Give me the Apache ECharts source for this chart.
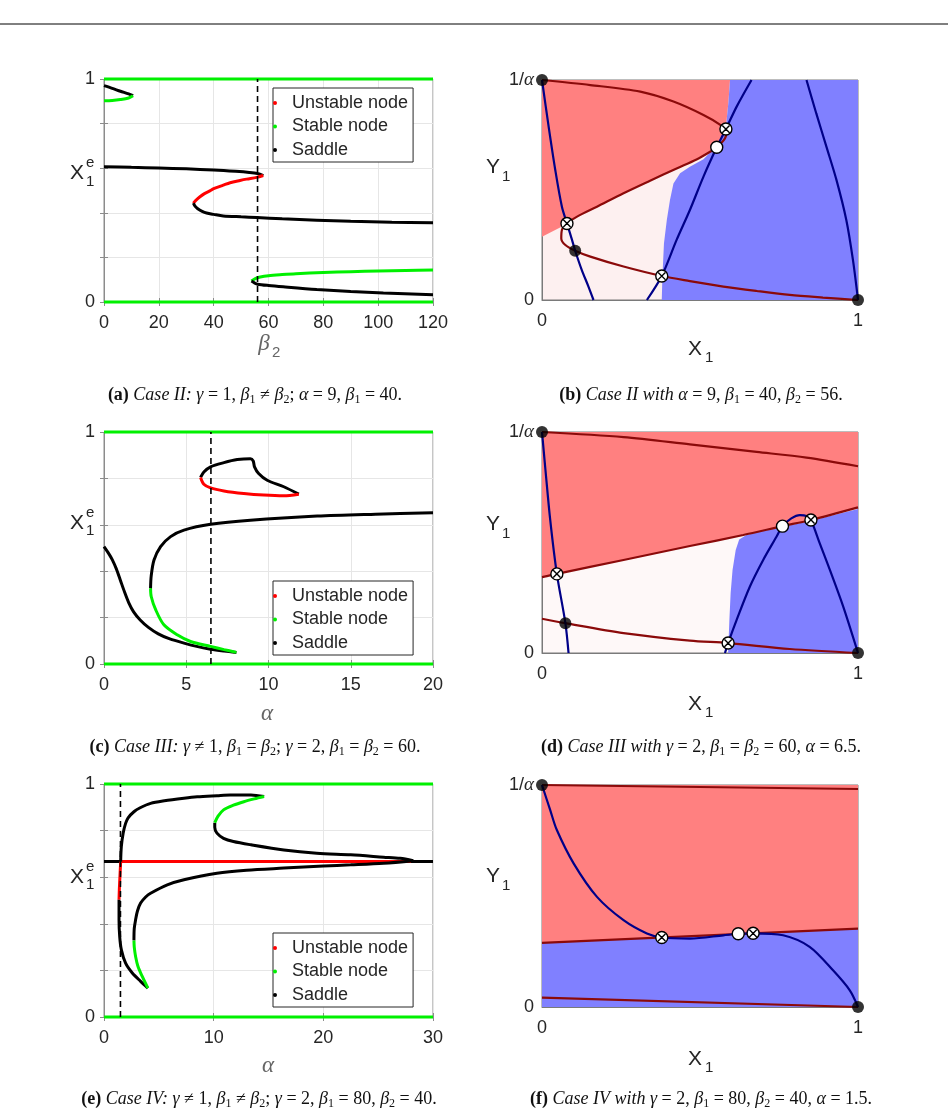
<!DOCTYPE html>
<html>
<head>
<meta charset="utf-8">
<script src="https://cdn.jsdelivr.net/npm/echarts@6/dist/echarts.min.js"></script>
<style>
html, body { margin: 0; padding: 0; background: #fff; }
#main { width: 948px; height: 1117px; }
</style>
</head>
<body>
<div id="main"></div>
<script>
// ---- (a) Case II, bifurcation in beta2 ----
var aTop = [[0, 1], [120, 1]];
var aBot = [[0, 0], [120, 0]];
var aSadTip = [[0, 0.970], [3, 0.958], [6, 0.945], [9, 0.933], [10.6, 0.925]];
var aStabTip = [[10.6, 0.925], [9, 0.915], [6, 0.908], [3, 0.904], [0, 0.903]];
var aSadUp = [[0, 0.607], [10, 0.604], [20, 0.601], [30, 0.597], [40, 0.592], [48, 0.586], [53, 0.581], [56, 0.576], [58.1, 0.567]];
var aUnst = [[58.1, 0.567], [55.7, 0.559], [52, 0.551], [49.6, 0.545], [46, 0.535], [43.5, 0.524], [40, 0.508], [38.6, 0.498], [36.5, 0.485], [35, 0.472], [33.5, 0.456], [32.6, 0.443]];
var aSadMid = [[32.6, 0.443], [33.2, 0.43], [34.2, 0.418], [36, 0.405], [37.4, 0.399], [40, 0.393], [43.5, 0.386], [50, 0.382], [55.7, 0.379], [65, 0.373], [77.6, 0.367], [90, 0.362], [105, 0.358], [120, 0.355]];
var aStabLow = [[53.8, 0.094], [55, 0.104], [57, 0.112], [60, 0.118], [65, 0.123], [70, 0.127], [80, 0.132], [90, 0.136], [100, 0.139], [110, 0.141], [120, 0.143]];
var aSadLow = [[53.8, 0.094], [55, 0.085], [56, 0.08], [60, 0.074], [65.4, 0.068], [77.6, 0.056], [90, 0.047], [101.9, 0.04], [120, 0.033]];
var aDash = [[56, 0], [56, 1]];

// ---- (c) Case III, bifurcation in alpha ----
var cTop = [[0, 1], [20, 1]];
var cBot = [[0, 0], [20, 0]];
var cSadLeft = [[0, 0.506], [0.25, 0.48], [0.5, 0.45], [0.75, 0.41], [1.0, 0.36], [1.25, 0.31], [1.5, 0.265], [1.8, 0.225], [2.2, 0.19], [2.7, 0.158], [3.3, 0.13], [4.0, 0.108], [4.86, 0.09], [5.7, 0.075], [6.48, 0.064], [7.3, 0.056], [8.05, 0.05]];
var cStab = [[8.05, 0.05], [7.3, 0.062], [6.48, 0.076], [5.26, 0.097], [4.45, 0.126], [3.64, 0.169], [3.14, 0.234], [2.87, 0.291], [2.83, 0.327]];
var cSadUp = [[2.83, 0.327], [2.87, 0.38], [3.04, 0.448], [3.44, 0.506], [4.05, 0.549], [4.86, 0.577], [6.48, 0.602], [8.9, 0.62], [12.96, 0.638], [16.5, 0.646], [20, 0.652]];
var cSadLoop = [[5.87, 0.804], [6.07, 0.828], [6.48, 0.85], [7.29, 0.868], [8.1, 0.881], [8.9, 0.885], [9.07, 0.875], [9.15, 0.85], [9.4, 0.821], [9.92, 0.792], [10.93, 0.764], [11.84, 0.732]];
var cUnstLoop = [[11.84, 0.732], [10.93, 0.725], [9.72, 0.728], [8.5, 0.735], [7.29, 0.746], [6.48, 0.759], [6.07, 0.775], [5.87, 0.804]];
var cDash = [[6.5, 0], [6.5, 1]];

// ---- (e) Case IV, bifurcation in alpha ----
var eTop = [[0, 1], [30, 1]];
var eBot = [[0, 0], [30, 0]];
var eSadFlat = [[0, 0.667], [30, 0.667]];
var eUnstFlat = [[1.6, 0.667], [28, 0.667]];
var eSadBig = [[14.6, 0.946], [13.4, 0.953], [11.5, 0.953], [10.3, 0.95], [8.5, 0.945], [7.29, 0.939], [5.5, 0.928], [4.25, 0.917], [3.3, 0.898], [2.73, 0.881], [2.2, 0.855], [1.97, 0.831], [1.75, 0.79], [1.58, 0.731], [1.52, 0.667]];
var eUnstDrop = [[1.52, 0.667], [1.45, 0.6], [1.4, 0.55], [1.37, 0.503]];
var eSadDrop = [[1.37, 0.503], [1.37, 0.417], [1.43, 0.346], [1.58, 0.289], [1.97, 0.231], [2.58, 0.189], [3.34, 0.153], [4.0, 0.124]];
var eStabLow = [[4.0, 0.124], [3.49, 0.174], [3.1, 0.217], [2.88, 0.26], [2.76, 0.3], [2.73, 0.329]];
var eSadMid = [[2.73, 0.329], [2.76, 0.38], [2.88, 0.417], [3.05, 0.455], [3.34, 0.489], [3.8, 0.515], [4.25, 0.531], [5.77, 0.567], [7.29, 0.589], [10.3, 0.617], [13, 0.63], [16.4, 0.639], [20, 0.648], [22.5, 0.653], [25.5, 0.66], [28.2, 0.671]];
var eSadBack = [[28.2, 0.671], [27, 0.681], [25.5, 0.686], [22.5, 0.696], [19.4, 0.703], [16.4, 0.717], [13.4, 0.739], [11.8, 0.753], [10.9, 0.767], [10.3, 0.789], [10.1, 0.814], [10.1, 0.834]];
var eStabUp = [[10.1, 0.834], [10.4, 0.862], [10.9, 0.889], [11.8, 0.909], [12.75, 0.924], [13.7, 0.936], [14.6, 0.946]];
var eDash = [[1.5, 0], [1.5, 1]];

// ---- (b) phase plane, Case II ----
var bRed = [[0, 1], [0.595, 1], [0.59, 0.9], [0.583, 0.8], [0.57, 0.74], [0.545, 0.69], [0.511, 0.652], [0.426, 0.598], [0.342, 0.542], [0.258, 0.485], [0.174, 0.424], [0.111, 0.379], [0.079, 0.345], [0, 0.288]];
var bBlue = [[0.595, 1], [1, 1], [1, 0], [0.379, 0], [0.381, 0.106], [0.386, 0.258], [0.395, 0.364], [0.405, 0.455], [0.416, 0.53], [0.437, 0.576], [0.468, 0.606], [0.511, 0.64], [0.545, 0.69], [0.57, 0.74], [0.583, 0.8], [0.59, 0.9]];
var bMaroon = [[0, 1], [0.153, 0.977], [0.311, 0.947], [0.416, 0.902], [0.511, 0.841], [0.563, 0.797], [0.584, 0.765], [0.579, 0.735], [0.553, 0.694], [0.532, 0.674], [0.489, 0.639], [0.426, 0.598], [0.342, 0.542], [0.258, 0.485], [0.174, 0.424], [0.111, 0.379], [0.079, 0.348], [0.063, 0.318], [0.061, 0.28], [0.074, 0.25], [0.105, 0.224], [0.153, 0.197], [0.258, 0.152], [0.379, 0.109], [0.468, 0.086], [0.574, 0.061], [0.679, 0.041], [0.784, 0.023], [0.889, 0.011], [1, 0]];
var bNavy1 = [[0, 1], [0.021, 0.788], [0.042, 0.591], [0.063, 0.424], [0.079, 0.348], [0.095, 0.273], [0.105, 0.224], [0.126, 0.136], [0.147, 0.061], [0.163, 0]];
var bNavy2 = [[0.332, 0], [0.379, 0.109], [0.426, 0.273], [0.468, 0.409], [0.511, 0.561], [0.553, 0.694], [0.582, 0.777], [0.616, 0.879], [0.663, 1]];
var bNavy3 = [[0.837, 1], [0.868, 0.848], [0.9, 0.697], [0.932, 0.545], [0.963, 0.364], [0.984, 0.182], [1, 0]];
var bStable = [[0, 1], [1, 0], [0.105, 0.224]];
var bUnstable = [[0.553, 0.694]];
var bSaddle = [[0.582, 0.777], [0.079, 0.348], [0.379, 0.109]];

// ---- (d) phase plane, Case III ----
var dRed = [[0, 1], [1, 1], [1, 0.659], [0.851, 0.602], [0.761, 0.574], [0.637, 0.534], [0.468, 0.484], [0.258, 0.421], [0.047, 0.358], [0, 0.343]];
var dBlue = [[0.589, 0], [1, 0], [1, 0.652], [0.851, 0.598], [0.761, 0.57], [0.68, 0.546], [0.647, 0.534], [0.624, 0.514], [0.613, 0.466], [0.603, 0.376], [0.597, 0.271], [0.593, 0.15]];
var dMaroon1 = [[0, 1], [0.258, 0.977], [0.468, 0.944], [0.679, 0.91], [0.837, 0.884], [1, 0.845]];
var dMaroon2 = [[0, 0.343], [0.047, 0.358], [0.258, 0.421], [0.468, 0.484], [0.637, 0.534], [0.761, 0.574], [0.851, 0.602], [1, 0.659]];
var dMaroon3 = [[0, 0.155], [0.074, 0.135], [0.258, 0.09], [0.468, 0.056], [0.589, 0.045], [0.784, 0.018], [1, 0]];
var dNavy1 = [[0, 1], [0.011, 0.827], [0.026, 0.602], [0.047, 0.358], [0.074, 0.135], [0.084, 0]];
var dNavy2 = [[0.579, 0], [0.589, 0.045], [0.616, 0.15], [0.658, 0.301], [0.7, 0.421], [0.742, 0.526], [0.761, 0.574], [0.789, 0.609], [0.816, 0.624], [0.837, 0.62], [0.851, 0.602], [0.879, 0.496], [0.911, 0.376], [0.953, 0.211], [1, 0]];
var dStable = [[0, 1], [1, 0], [0.074, 0.135]];
var dUnstable = [[0.761, 0.574]];
var dSaddle = [[0.851, 0.602], [0.047, 0.358], [0.589, 0.045]];

// ---- (f) phase plane, Case IV ----
var fRed = [[0, 1], [1, 1], [1, 0.353], [0, 0.289]];
var fBlue = [[0, 0.289], [1, 0.353], [1, 0], [0, 0]];
var fMaroon1 = [[0, 1], [1, 0.982]];
var fMaroon2 = [[0, 0.289], [1, 0.353]];
var fMaroon3 = [[0, 0.042], [1, 0]];
var fNavy = [[0, 1], [0.026, 0.887], [0.047, 0.797], [0.1, 0.647], [0.174, 0.496], [0.258, 0.391], [0.332, 0.331], [0.379, 0.313], [0.468, 0.308], [0.574, 0.323], [0.621, 0.33], [0.668, 0.332], [0.763, 0.323], [0.847, 0.271], [0.921, 0.165], [0.974, 0.075], [1, 0]];
var fStable = [[0, 1], [1, 0]];
var fUnstable = [[0.621, 0.33]];
var fSaddle = [[0.379, 0.313], [0.668, 0.332]];

var legendNames = ['Unstable node', 'Stable node', 'Saddle'];

var RED = '#ff0000', GREEN = '#00f000', BLACK = '#000000';
var MAROON = '#8b0a0a', NAVY = '#000088';
var SANS = 'Liberation Sans', SERIF = 'Liberation Serif';
var saddleSymbol = 'path://M10,0A10,10,0,1,1,10,20A10,10,0,1,1,10,0Z M4,4L16,16 M16,4L4,16';

var chart = echarts.init(document.getElementById('main'));

// grids: a, b, c, d, e, f
var grids = [
  { left: 104, top: 79, width: 329, height: 223 },
  { left: 542, top: 80, width: 316, height: 220 },
  { left: 104, top: 432, width: 329, height: 232 },
  { left: 542, top: 432, width: 316, height: 221 },
  { left: 104, top: 784, width: 329, height: 233 },
  { left: 542, top: 785, width: 316, height: 222 }
];
grids.forEach(function (g, i) {
  g.show = true;
  g.borderWidth = 1;
  g.borderColor = i % 2 === 0 ? '#8c8c8c' : '#7a7a7a';
  g.backgroundColor = i === 1 ? '#fdf0f0' : (i === 3 ? '#fef8f8' : 'transparent');
  g.containLabel = false;
});

function bifX(i, max, step) {
  return {
    gridIndex: i, type: 'value', min: 0, max: max, interval: step,
    axisLine: { show: true, onZero: false, lineStyle: { color: '#8c8c8c' } },
    axisTick: { show: true, inside: true, length: 4, lineStyle: { color: '#8c8c8c' } },
    axisLabel: { margin: 12, fontSize: 18, color: '#262626', fontFamily: SANS },
    splitLine: { show: true, lineStyle: { color: '#e6e6e6' } }
  };
}
function bifY(i) {
  return {
    gridIndex: i, type: 'value', min: 0, max: 1, interval: 0.2,
    axisLine: { show: true, onZero: false, lineStyle: { color: '#8c8c8c' } },
    axisTick: { show: true, inside: true, length: 4, lineStyle: { color: '#8c8c8c' } },
    axisLabel: {
      margin: 9, fontSize: 18, color: '#262626', fontFamily: SANS,
      formatter: function (v) { return (Math.abs(v) < 1e-9) ? '0' : (Math.abs(v - 1) < 1e-9 ? '1' : ''); }
    },
    splitLine: { show: true, lineStyle: { color: '#e6e6e6' } }
  };
}
// tick-only mirror axes (top and right of the bifurcation boxes)
function mirrorX(i, max, step) {
  return {
    gridIndex: i, type: 'value', position: 'top', min: 0, max: max, interval: step,
    axisLine: { show: false }, axisLabel: { show: false }, splitLine: { show: false },
    axisTick: { show: true, inside: true, length: 4, lineStyle: { color: '#8c8c8c' } }
  };
}
function mirrorY(i) {
  return {
    gridIndex: i, type: 'value', position: 'right', min: 0, max: 1, interval: 0.2,
    axisLine: { show: false }, axisLabel: { show: false }, splitLine: { show: false },
    axisTick: { show: true, inside: true, length: 4, lineStyle: { color: '#8c8c8c' } }
  };
}
function phaseX(i) {
  return {
    gridIndex: i, type: 'value', min: 0, max: 1, interval: 1,
    axisLine: { show: true, onZero: false, lineStyle: { color: '#7a7a7a' } },
    axisTick: { show: false },
    axisLabel: { margin: 12, fontSize: 18, color: '#262626', fontFamily: SANS },
    splitLine: { show: false }
  };
}
function phaseY(i) {
  return {
    gridIndex: i, type: 'value', min: 0, max: 1, interval: 1,
    axisLine: { show: true, onZero: false, lineStyle: { color: '#7a7a7a' } },
    axisTick: { show: false },
    axisLabel: {
      margin: 8, fontSize: 18, color: '#262626', fontFamily: SANS,
      formatter: function (v) { return v > 0.5 ? '1/{a|α}' : '0'; },
      rich: { a: { fontFamily: SERIF, fontStyle: 'italic', fontSize: 19, color: '#262626' } }
    },
    splitLine: { show: false }
  };
}

function curve(name, gi, data, color, width, z) {
  return {
    type: 'line', name: name, xAxisIndex: gi, yAxisIndex: gi, data: data,
    symbol: 'none', showSymbol: false, smooth: 0.3, clip: false, silent: true,
    lineStyle: { color: color, width: width }, itemStyle: { color: color }, z: z || 3
  };
}
function dashed(gi, data) {
  return {
    type: 'line', xAxisIndex: gi, yAxisIndex: gi, data: data, symbol: 'none',
    clip: false, silent: true, lineStyle: { color: '#000', width: 1.6, type: [6, 4] }, z: 4
  };
}
function region(gi, pts, color) {
  return {
    type: 'custom', xAxisIndex: gi, yAxisIndex: gi, data: [pts[0]], silent: true, z: 1,
    renderItem: function (params, api) {
      return {
        type: 'polygon',
        shape: { points: pts.map(function (p) { return api.coord(p); }) },
        style: { fill: color }
      };
    }
  };
}
function dots(gi, data, kind) {
  var s = {
    type: 'scatter', xAxisIndex: gi, yAxisIndex: gi, data: data, clip: false, silent: true, z: 6
  };
  if (kind === 'stable') {
    s.symbol = 'circle'; s.symbolSize = 12; s.itemStyle = { color: '#000' };
  } else if (kind === 'unstable') {
    s.symbol = 'circle'; s.symbolSize = 12; s.itemStyle = { color: '#fff', borderColor: '#000', borderWidth: 1.4, opacity: 1 };
  } else {
    s.symbol = saddleSymbol; s.symbolSize = 12; s.itemStyle = { color: '#fff', borderColor: '#000', borderWidth: 1.4, opacity: 1 };
  }
  return s;
}

var U = 'Unstable node', S = 'Stable node', D = 'Saddle';
var series = [
  // (a)
  curve(S, 0, aTop, GREEN, 3), curve(S, 0, aBot, GREEN, 3),
  curve(D, 0, aSadTip, BLACK, 3), curve(S, 0, aStabTip, GREEN, 3),
  curve(D, 0, aSadUp, BLACK, 3), curve(U, 0, aUnst, RED, 3), curve(D, 0, aSadMid, BLACK, 3),
  curve(S, 0, aStabLow, GREEN, 3), curve(D, 0, aSadLow, BLACK, 3),
  dashed(0, aDash),
  // (c)
  curve(S, 2, cTop, GREEN, 3), curve(S, 2, cBot, GREEN, 3),
  curve(D, 2, cSadLeft, BLACK, 3), curve(S, 2, cStab, GREEN, 3), curve(D, 2, cSadUp, BLACK, 3),
  curve(D, 2, cSadLoop, BLACK, 3), curve(U, 2, cUnstLoop, RED, 3),
  dashed(2, cDash),
  // (e)
  curve(S, 4, eTop, GREEN, 3), curve(S, 4, eBot, GREEN, 3),
  curve(D, 4, eSadFlat, BLACK, 3), curve(U, 4, eUnstFlat, RED, 3),
  curve(D, 4, eSadBig, BLACK, 3), curve(U, 4, eUnstDrop, RED, 3), curve(D, 4, eSadDrop, BLACK, 3),
  curve(S, 4, eStabLow, GREEN, 3), curve(D, 4, eSadMid, BLACK, 3), curve(D, 4, eSadBack, BLACK, 3),
  curve(S, 4, eStabUp, GREEN, 3),
  dashed(4, eDash),
  // (b)
  region(1, bRed, '#ff8080'), region(1, bBlue, '#8080ff'),
  curve('', 1, bMaroon, MAROON, 2.2), curve('', 1, bNavy1, NAVY, 2.2), curve('', 1, bNavy2, NAVY, 2.2), curve('', 1, bNavy3, NAVY, 2.2),
  dots(1, bStable, 'stable'), dots(1, bUnstable, 'unstable'), dots(1, bSaddle, 'saddle'),
  // (d)
  region(3, dRed, '#ff8080'), region(3, dBlue, '#8080ff'),
  curve('', 3, dMaroon1, MAROON, 2.2), curve('', 3, dMaroon2, MAROON, 2.2), curve('', 3, dMaroon3, MAROON, 2.2),
  curve('', 3, dNavy1, NAVY, 2.2), curve('', 3, dNavy2, NAVY, 2.2),
  dots(3, dStable, 'stable'), dots(3, dUnstable, 'unstable'), dots(3, dSaddle, 'saddle'),
  // (f)
  region(5, fRed, '#ff8080'), region(5, fBlue, '#8080ff'),
  curve('', 5, fMaroon1, MAROON, 2.2), curve('', 5, fMaroon2, MAROON, 2.2), curve('', 5, fMaroon3, MAROON, 2.2),
  curve('', 5, fNavy, NAVY, 2.2),
  dots(5, fStable, 'stable'), dots(5, fUnstable, 'unstable'), dots(5, fSaddle, 'saddle')
];

function legendAt(top) {
  return {
    data: legendNames, orient: 'vertical', left: 273, top: top,
    icon: 'circle', itemWidth: 24, itemHeight: 4, itemGap: 5.5,
    padding: [6, 5, 3, 0], borderColor: '#262626', borderWidth: 1, backgroundColor: '#fff',
    selectedMode: false,
    textStyle: { fontSize: 18, color: '#262626', fontFamily: SANS }
  };
}

// axis titles and captions
function txt(x, y, text, font, color, align) {
  return {
    type: 'text', x: x, y: y, silent: true,
    style: { text: text, font: font, fill: color || '#262626', align: align || 'left', textAlign: align || 'left', verticalAlign: 'middle', textVerticalAlign: 'middle' }
  };
}
function xe(cy) {
  return [
    txt(70, cy, 'X', '21px ' + SANS),
    txt(86, cy - 10.5, 'e', '15px ' + SANS),
    txt(86, cy + 8, '1', '15px ' + SANS)
  ];
}
function y1(cy) {
  return [txt(500, cy, 'Y', '21px ' + SANS, '#262626', 'right'), txt(502, cy + 10, '1', '15px ' + SANS)];
}
function x1(cy) {
  return [txt(688, cy, 'X', '21px ' + SANS), txt(705, cy + 9, '1', '15px ' + SANS)];
}
var capRich = {
  b: { fontFamily: SERIF, fontWeight: 'bold', fontSize: 18, color: '#111' },
  i: { fontFamily: SERIF, fontStyle: 'italic', fontSize: 18, color: '#111' },
  n: { fontFamily: SERIF, fontSize: 18, color: '#111' },
  s: { fontFamily: SERIF, fontSize: 12, color: '#111', padding: [9, 0, 0, 0] }
};
function caption(cx, cy, text) {
  return {
    type: 'text', x: cx, y: cy, silent: true,
    style: { text: text, rich: capRich, align: 'center', textAlign: 'center', verticalAlign: 'middle', textVerticalAlign: 'middle', font: '18px ' + SERIF, fill: '#111' }
  };
}

var graphics = [
  { type: 'line', shape: { x1: 0, y1: 24, x2: 948, y2: 24 }, style: { stroke: '#000', lineWidth: 1 }, silent: true }
]
  .concat(xe(173.5)).concat(xe(523)).concat(xe(877))
  .concat(y1(167)).concat(y1(524)).concat(y1(876))
  .concat(x1(349)).concat(x1(704)).concat(x1(1059))
  .concat([
    txt(264, 344, 'β', 'italic 23px ' + SERIF, '#666', 'center'),
    txt(272, 353, '2', '15px ' + SANS, '#666'),
    txt(267, 714, 'α', 'italic 23px ' + SERIF, '#666', 'center'),
    txt(268, 1066, 'α', 'italic 23px ' + SERIF, '#666', 'center'),
    caption(255, 395, '{b|(a)} {i|Case II: γ} {n|= 1,} {i|β}{s|1} {n|≠} {i|β}{s|2}{n|;} {i|α} {n|= 9,} {i|β}{s|1} {n|= 40.}'),
    caption(701, 395, '{b|(b)} {i|Case II with α} {n|= 9,} {i|β}{s|1} {n|= 40,} {i|β}{s|2} {n|= 56.}'),
    caption(255, 747, '{b|(c)} {i|Case III: γ} {n|≠ 1,} {i|β}{s|1} {n|=} {i|β}{s|2}{n|;} {i|γ} {n|= 2,} {i|β}{s|1} {n|=} {i|β}{s|2} {n|= 60.}'),
    caption(701, 747, '{b|(d)} {i|Case III with γ} {n|= 2,} {i|β}{s|1} {n|=} {i|β}{s|2} {n|= 60,} {i|α} {n|= 6.5.}'),
    caption(259, 1099, '{b|(e)} {i|Case IV: γ} {n|≠ 1,} {i|β}{s|1} {n|≠} {i|β}{s|2}{n|;} {i|γ} {n|= 2,} {i|β}{s|1} {n|= 80,} {i|β}{s|2} {n|= 40.}'),
    caption(701, 1099, '{b|(f)} {i|Case IV with γ} {n|= 2,} {i|β}{s|1} {n|= 80,} {i|β}{s|2} {n|= 40,} {i|α} {n|= 1.5.}')
  ]);

chart.setOption({
  animation: false,
  backgroundColor: '#fff',
  grid: grids,
  xAxis: [bifX(0, 120, 20), phaseX(1), bifX(2, 20, 5), phaseX(3), bifX(4, 30, 10), phaseX(5),
    mirrorX(0, 120, 20), mirrorX(2, 20, 5), mirrorX(4, 30, 10)],
  yAxis: [bifY(0), phaseY(1), bifY(2), phaseY(3), bifY(4), phaseY(5),
    mirrorY(0), mirrorY(2), mirrorY(4)],
  legend: [legendAt(88), legendAt(581), legendAt(933)],
  series: series,
  graphic: graphics
});
</script>
</body>
</html>
